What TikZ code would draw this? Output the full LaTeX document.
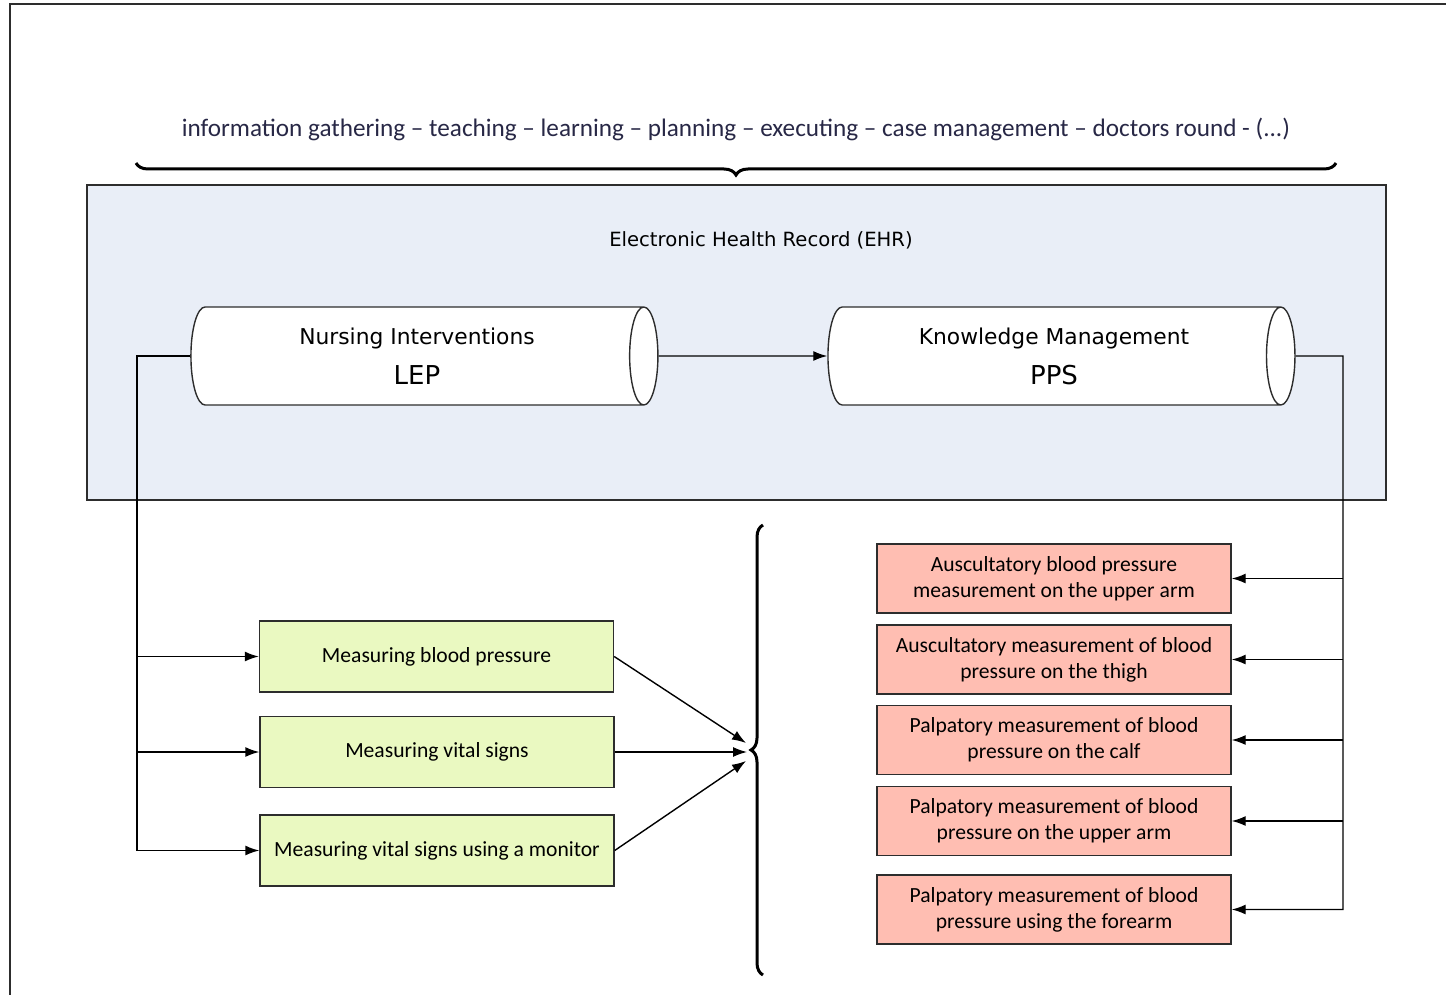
\documentclass[tikz,border=0pt]{standalone}
\usepackage{fontspec}
\setmainfont{Carlito}
\newfontfamily\verdana{DejaVu Sans}
\usetikzlibrary{shapes.geometric,arrows.meta,decorations.pathreplacing}
\definecolor{ehrblue}{RGB}{233,238,247}
\definecolor{taskgreen}{RGB}{234,249,193}
\definecolor{methodred}{RGB}{255,190,178}
\definecolor{linegray}{RGB}{45,45,45}
\definecolor{headtext}{RGB}{40,40,70}

\begin{document}
\begin{tikzpicture}[x=0.5pt,y=-0.5pt,line width=0.7pt,
  arr/.style={-{Latex[length=7pt,width=5pt]}},
  store/.style={cylinder,draw=linegray,fill=white,aspect=0.5,minimum height=233.5pt,
    minimum width=49pt,inner sep=0pt,align=center,font=\verdana\fontsize{10.9}{13}\selectfont},
  task/.style={draw=linegray,fill=taskgreen,minimum width=177pt,minimum height=35.5pt,
    inner sep=0pt,font=\fontsize{10.8}{13}\selectfont},
  method/.style={draw=linegray,fill=methodred,minimum width=177pt,minimum height=34.5pt,
    inner sep=0pt,align=center,font=\fontsize{10.8}{13}\selectfont},
  bigbrace/.style={decorate,decoration={brace,amplitude=6pt},line width=1.5pt}]

\useasboundingbox(0,0) rectangle (1446,995);
\draw[linegray](10,4) rectangle (1470,1020);

% activities
\node(acts) at (736,129) [text=headtext,font=\fontsize{12.6}{15}\selectfont]
  {information gathering -- teaching -- learning -- planning -- executing -- case management -- doctors round - (...)};
\draw[bigbrace](1336,163) -- (136,163);

% health record
\draw[draw=linegray,fill=ehrblue](87,185) rectangle (1386,500);
\node(ehr) at (761,240) [font=\verdana\fontsize{9.8}{12}\selectfont]{Electronic Health Record (EHR)};

\node[store](lep) at (417,356){Nursing Interventions\\[7pt]{\fontsize{13}{15}\selectfont LEP}};
\node[store](kms) at (1054,356){Knowledge Management\\[7pt]{\fontsize{13}{15}\selectfont PPS}};
\draw[arr](lep.east) -- (kms.west);

% nursing tasks
\node[task](m1) at (436.5,656.5){Measuring blood pressure};
\node[task](m2) at (437,752){Measuring vital signs};
\node[task](m3) at (437,850.5){Measuring vital signs using a monitor};

\coordinate(lbus) at (137,356);
\draw[arr](lep.west) -- (lbus) |- (m3.west);
\draw[arr](lbus |- m1.west) -- (m1.west);
\draw[arr](lbus |- m2.west) -- (m2.west);

\draw[bigbrace](763,975) -- (763,525);
\coordinate(t1) at (746,743);
\coordinate(t2) at (747,752);
\coordinate(t3) at (746,761);
\draw[arr](m1.east) -- (t1);
\draw[arr](m2.east) -- (t2);
\draw[arr](m3.east) -- (t3);

% measuring methods
\node[method](r1) at (1054,578.5){Auscultatory blood pressure\\measurement on the upper arm};
\node[method](r2) at (1054,659.5){Auscultatory measurement of blood\\pressure on the thigh};
\node[method](r3) at (1054,740){Palpatory measurement of blood\\pressure on the calf};
\node[method](r4) at (1054,821){Palpatory measurement of blood\\pressure on the upper arm};
\node[method](r5) at (1054,909.5){Palpatory measurement of blood\\pressure using the forearm};

\coordinate(rbus) at (1343,356);
\draw[arr](kms.east) -- (rbus) |- (r5.east);
\draw[arr](rbus |- r1.east) -- (r1.east);
\draw[arr](rbus |- r2.east) -- (r2.east);
\draw[arr](rbus |- r3.east) -- (r3.east);
\draw[arr](rbus |- r4.east) -- (r4.east);

\end{tikzpicture}
\end{document}
